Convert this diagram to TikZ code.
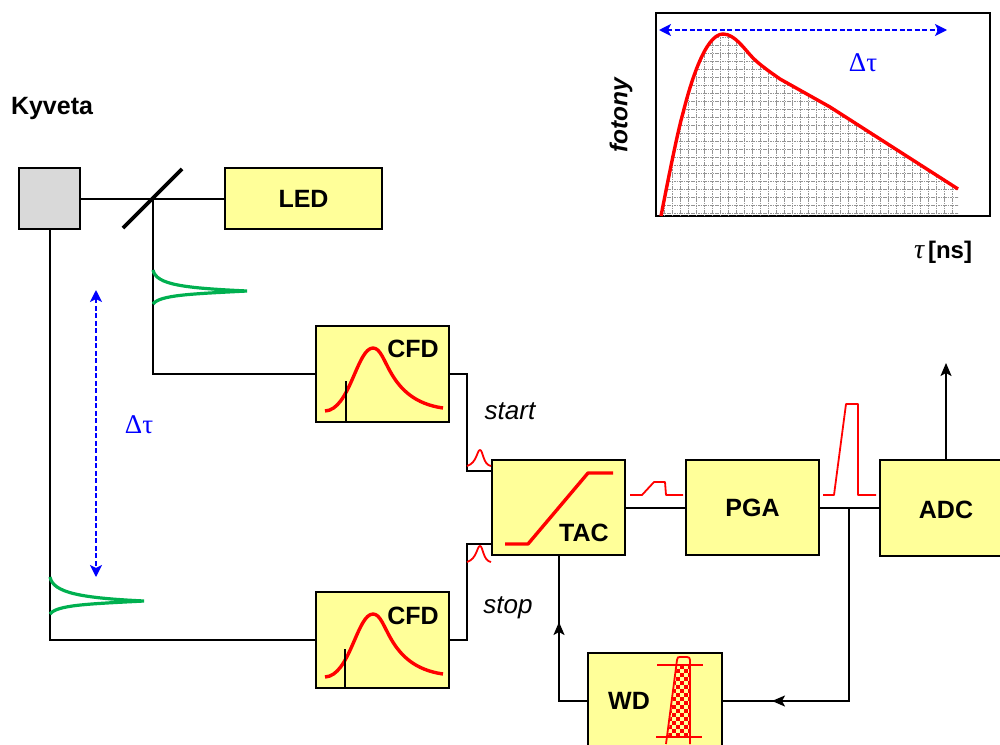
\documentclass[tikz,border=0pt]{standalone}
\usepackage{fontspec}
\setmainfont{Liberation Sans}
\newfontfamily\symfont{Liberation Serif}
\usetikzlibrary{arrows.meta}
\definecolor{boxyellow}{RGB}{255,255,153}
\definecolor{cellgrey}{RGB}{217,217,217}
\definecolor{pulsegreen}{RGB}{0,176,80}
\definecolor{tracered}{RGB}{255,0,0}
\definecolor{deltablue}{RGB}{0,0,255}
\tikzset{
  x=1pt,y=-1pt,
  block/.style={draw=black,line width=2pt,fill=boxyellow,inner sep=0pt,font=\fontsize{25}{29}\selectfont\bfseries},
  wire/.style={draw=black,line width=2pt},
  flowarrow/.style={wire,-{Stealth[length=13pt,width=11pt,inset=3pt]}},
  redcurve/.style={draw=tracered,line width=3.4pt,line join=round},
  thinred/.style={draw=tracered,line width=1.8pt,line join=round},
  greenpulse/.style={draw=pulsegreen,line width=3.2pt},
  bluearrow/.style={draw=deltablue,line width=2pt,dash pattern=on 5pt off 2.5pt,{Stealth[length=12pt,width=12pt,inset=3pt,fill=deltablue]}-{Stealth[length=12pt,width=12pt,inset=3pt,fill=deltablue]}},
  gridline/.style={draw=black!42,line width=1pt,dash pattern=on 1.6pt off .8pt},
  blocklabel/.style={font=\fontsize{25}{29}\selectfont\bfseries,inner sep=0pt},
  italiclabel/.style={font=\fontsize{26}{30}\selectfont\itshape,inner sep=0pt},
  deltalabel/.style={text=deltablue,font=\fontsize{27}{31}\selectfont\symfont,inner sep=0pt}
}
\begin{document}
\begin{tikzpicture}
\useasboundingbox (0,0) rectangle (1000,744);
\clip (0,0) rectangle (1000,744);
% inset plot
\node[draw=black,line width=2pt,fill=white,minimum width=334pt,minimum height=203pt,inner sep=0pt] (plot) at (823,114.5) {};
\begin{scope}
\clip (661,216) .. controls (669,175) and (678,130) .. (683,113) .. controls (690,85) and (705,34) .. (723,34) .. controls (735,34) and (745,50) .. (753,58) .. controls (760,65) and (770,72) .. (780,79) -- (830,107) -- (958,189) -- (958,215) -- cycle;
\foreach \gx in {664.5,672.5,...,960} \draw[gridline] (\gx,30) -- (\gx,216);
\foreach \gy in {213.5,205.5,...,30} \draw[gridline] (655,\gy) -- (960,\gy);
\end{scope}
\draw[redcurve] (661,216) .. controls (669,175) and (678,130) .. (683,113) .. controls (690,85) and (705,34) .. (723,34) .. controls (735,34) and (745,50) .. (753,58) .. controls (760,65) and (770,72) .. (780,79) -- (830,107) -- (958,189);
\coordinate (pa) at (659,30); \coordinate (pb) at (947,30);
\draw[bluearrow] (pa) -- (pb);
\node[deltalabel] (dt1) at (863,63) {Δτ};
\node[font=\fontsize{24.5}{28}\selectfont\bfseries\itshape,rotate=90,inner sep=0pt] (yl) at (621,115) {fotony};
\node[font=\fontsize{24}{28}\selectfont\bfseries,inner sep=0pt] (xl) at (943,252) {{\symfont\itshape\mdseries\fontsize{28}{30}\selectfont τ}\,[ns]};
\node[font=\fontsize{25}{29}\selectfont\bfseries,inner sep=0pt] (kt) at (52,108) {Kyveta};
% blocks
\node[draw=black,line width=2pt,fill=cellgrey,minimum width=61pt,minimum height=61pt,inner sep=0pt] (kyv) at (49.5,198.5) {};
\node[block,minimum width=157pt,minimum height=61pt] (led) at (303.5,198.5) {LED};
\node[block,minimum width=133pt,minimum height=96pt] (cfda) at (382.5,374) {};
\node[block,minimum width=133pt,minimum height=96pt] (cfdb) at (382.5,640) {};
\node[block,minimum width=133pt,minimum height=95pt] (tac) at (558.5,507.5) {};
\node[block,minimum width=133pt,minimum height=95pt] (pga) at (752.5,507.5) {PGA};
\node[block,minimum width=160pt,minimum height=96pt] (adc) at (960,508) {};
\node[block,minimum width=134pt,minimum height=98pt] (wd) at (655,702) {};
\node[blocklabel] at (413,349) {CFD};
\node[blocklabel] at (413,616) {CFD};
\node[blocklabel] at (584,533) {TAC};
\node[blocklabel] at (946,510) {ADC};
\node[blocklabel] at (629,701) {WD};
% connectors
\coordinate (split) at (153,198.5);
\coordinate (mira) at (123,228); \coordinate (mirb) at (182,169);
\coordinate (kdown) at (50,229);
\coordinate (kcorner) at (50,640);
\coordinate (scorner) at (153,374);
\draw[wire] (kyv.east) -- (led.west);
\draw[draw=black,line width=3.8pt] (mira) -- (mirb);
\draw[wire] (split) -- (scorner) -- (cfda.west);
\draw[wire] (kdown) -- (kcorner) -- (cfdb.west);
\coordinate (s1) at (467,374); \coordinate (s2) at (467,471); \coordinate (s3) at (492,471);
\coordinate (t1) at (467,640); \coordinate (t2) at (467,544); \coordinate (t3) at (492,544);
\draw[wire] (cfda.east) -- (s1) -- (s2) -- (s3);
\draw[wire] (cfdb.east) -- (t1) -- (t2) -- (t3);
\draw[wire] (tac.east) -- (pga.west);
\draw[wire] (pga.east) -- (adc.west |- pga.east);
\coordinate (adcout) at (946,363); \coordinate (adctop) at (946,460);
\draw[flowarrow] (adctop) -- (adcout);
\coordinate (tapa) at (849,507.5); \coordinate (tapb) at (849,701); \coordinate (tapm) at (772,701);
\draw[wire] (tapa) -- (tapb) -- (wd.east |- tapb);
\draw[flowarrow] (tapb) -- (tapm);
\coordinate (wl) at (559,701); \coordinate (tl) at (559,555); \coordinate (tm) at (559,622);
\draw[wire] (wd.west |- wl) -- (wl) -- (tl);
\draw[flowarrow] (wl) -- (tm);
% pulses
\draw[greenpulse] (153,270) .. controls (156,285) and (185,288) .. (247,291) .. controls (190,294) and (160,295) .. (153,304);
\draw[greenpulse] (50,577) .. controls (53,593) and (82,598) .. (144,601) .. controls (87,604) and (57,605) .. (50,614);
\coordinate (ba) at (96,290); \coordinate (bb) at (96,577);
\draw[bluearrow] (ba) -- (bb);
\node[deltalabel] (dt2) at (139,425) {Δτ};
% CFD traces
\draw[redcurve] (325,411) .. controls (350,410) and (357,348) .. (373,348) .. controls (388,348) and (386,400) .. (443,408);
\draw[redcurve] (325,677) .. controls (350,676) and (357,614) .. (373,614) .. controls (388,614) and (386,666) .. (443,674);
\coordinate (ca) at (346,381); \coordinate (cb) at (346,422);
\coordinate (da) at (345,649); \coordinate (db) at (345,688);
\draw[wire] (ca) -- (cb);
\draw[wire] (da) -- (db);
% TAC trace
\draw[redcurve] (505,544) -- (528,544) -- (588,473) -- (613,473);
% signal pulses
\draw[thinred] (467,466) .. controls (477,463) and (477,450) .. (480,450) .. controls (483,450) and (483,465) .. (491,466);
\draw[thinred] (467,562) .. controls (477,559) and (477,546) .. (480,546) .. controls (483,546) and (483,561) .. (491,562);
\draw[thinred] (630,495) -- (642,495) -- (654,482) -- (665,482) -- (666,495) -- (683,495);
\draw[thinred] (823,495) -- (834,495) -- (846,404) -- (858,404) -- (858,495) -- (876,495);
\node[italiclabel] (st) at (510,411) {start};
\node[italiclabel] (sp) at (508,608) {stop};
% WD window
\begin{scope}
\clip (677,665) -- (690,665) -- (690,737) -- (668,737) -- cycle;
\foreach \i in {0,...,6} \foreach \j in {0,...,18} {
  \pgfmathtruncatemacro{\odd}{mod(\i+\j,2)}
  \ifnum\odd=0 \fill[tracered] (664+\i*4,665+\j*4) rectangle ++(4,4);\fi
}
\end{scope}
\draw[thinred] (666,744) -- (677,660) .. controls (677.5,657) and (678,657) .. (680,657) -- (687,657) .. controls (689,657) and (690,658) .. (690,660) -- (690,744);
\coordinate (wa) at (657,665); \coordinate (wb) at (703,665);
\coordinate (wc) at (656,737); \coordinate (wdd) at (702,737);
\draw[tracered,line width=2.4pt] (wa) -- (wb);
\draw[tracered,line width=2.4pt] (wc) -- (wdd);
\end{tikzpicture}
\end{document}
